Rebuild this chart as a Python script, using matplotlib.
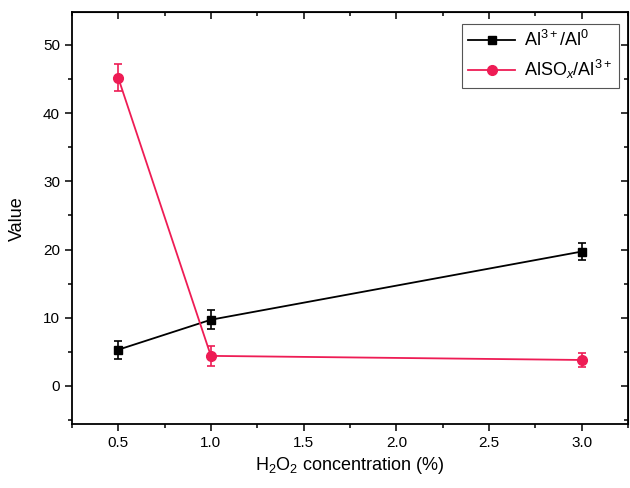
import numpy as np
import matplotlib
matplotlib.use("Agg")
import matplotlib.pyplot as plt
from matplotlib.lines import Line2D
from matplotlib.ticker import MultipleLocator

plt.rcParams['font.family'] = ['Liberation Sans', 'DejaVu Sans']
plt.rcParams['mathtext.fontset'] = 'custom'
plt.rcParams['mathtext.rm'] = 'Liberation Sans'
plt.rcParams['mathtext.it'] = 'Liberation Sans:italic'

# data
conc = [0.5, 1.0, 3.0]
al_ratio = [5.3, 9.7, 19.7]
al_err = [1.3, 1.4, 1.3]
also_ratio = [45.2, 4.4, 3.8]
also_err = [2.0, 1.5, 1.0]

black = 'black'
red = '#ee1c55'

fig = plt.figure(figsize=(6.3, 4.88), dpi=100)
ax = fig.add_axes([0.114, 0.131, 0.883, 0.844])

ax.errorbar(conc, al_ratio, yerr=al_err, color=black, marker='s', ms=6,
            lw=1.3, capsize=3, elinewidth=1.2, capthick=1.2)
ax.errorbar(conc, also_ratio, yerr=also_err, color=red, marker='o', ms=7,
            lw=1.3, capsize=3, elinewidth=1.2, capthick=1.2)

ax.set_xlim(0.25, 3.25)
ax.set_ylim(-5.6, 54.8)
ax.xaxis.set_major_locator(MultipleLocator(0.5))
ax.xaxis.set_minor_locator(MultipleLocator(0.25))
ax.yaxis.set_major_locator(MultipleLocator(10))
ax.yaxis.set_minor_locator(MultipleLocator(5))
ax.tick_params(which='both', direction='out', labelsize=11, width=1.1)
ax.tick_params(which='major', length=5)
ax.tick_params(which='minor', length=3)
for s in ax.spines.values():
    s.set_linewidth(1.3)

# mirrored ticks on top/right pointing inward
top = ax.secondary_xaxis('top')
top.xaxis.set_major_locator(MultipleLocator(0.5))
top.xaxis.set_minor_locator(MultipleLocator(0.25))
top.tick_params(which='both', direction='in', labeltop=False, width=1.1)
top.tick_params(which='major', length=5)
top.tick_params(which='minor', length=3)
right = ax.secondary_yaxis('right')
right.yaxis.set_major_locator(MultipleLocator(10))
right.yaxis.set_minor_locator(MultipleLocator(5))
right.tick_params(which='both', direction='in', labelright=False, width=1.1)
right.tick_params(which='major', length=5)
right.tick_params(which='minor', length=3)

ax.set_xlabel(r'H$_2$O$_2$ concentration (%)', fontsize=13)
ax.set_ylabel('Value', fontsize=13, labelpad=12)

handles = [Line2D([], [], color=black, marker='s', ms=6, lw=1.3),
           Line2D([], [], color=red, marker='o', ms=7, lw=1.3)]
labels = [r'Al$^{3+}$/Al$^{0}$', r'AlSO$_x$/Al$^{3+}$']
leg = ax.legend(handles, labels, loc='upper right', fontsize=13, fancybox=False,
                framealpha=1, edgecolor='#555555', handlelength=2.6,
                borderpad=0.35, labelspacing=0.45, handletextpad=0.5,
                borderaxespad=0, bbox_to_anchor=(0.983, 0.972))
leg.get_frame().set_linewidth(0.8)

fig.savefig('out.png', dpi=100)
